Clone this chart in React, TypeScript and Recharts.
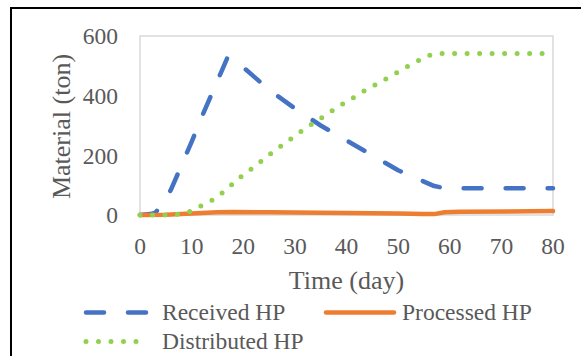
import { LineChart, Line, XAxis, YAxis, Legend, ReferenceArea } from 'recharts';

const receivedDays = [0, 2, 3, 4, 5, 6, 8, 10, 12, 14, 16, 17, 20, 25, 30, 35, 40, 45, 50, 55, 57, 59, 60, 80];
const receivedHP = [0, 3, 8, 30, 55, 85, 165, 245, 330, 410, 490, 530, 495, 420, 357, 300, 250, 200, 150, 112, 97, 90, 90, 90];

const processedDays = [0, 5, 10, 15, 18, 25, 30, 40, 50, 55, 57, 59, 62, 80];
const processedHP = [0, 1, 5, 9, 10, 9, 8, 7, 5, 3, 3, 9, 11, 13];

const distributedDays = [0, 5, 7, 8, 10, 12, 14, 16, 18, 20, 22, 24, 26, 28, 30, 32, 34, 36, 38, 40, 42, 44, 46, 48, 50, 52, 54, 56, 57, 58, 80];
const distributedHP = [0, 0, 2, 5, 13, 32, 50, 75, 105, 135, 160, 188, 215, 240, 265, 290, 312, 335, 358, 380, 400, 422, 440, 460, 480, 500, 518, 535, 540, 541, 541];

const xTicks = [0, 10, 20, 30, 40, 50, 60, 70, 80];
const yTicks = [0, 200, 400, 600];

const toPoints = (days: number[], vals: number[]) => days.map((d, i) => ({ day: d, value: vals[i] }));

const series = [
  { name: 'Received HP', data: toPoints(receivedDays, receivedHP), color: '#4472C4', width: 4.5, dash: '18 24' },
  { name: 'Processed HP', data: toPoints(processedDays, processedHP), color: '#ED7D31', width: 4.5, dash: undefined },
  { name: 'Distributed HP', data: toPoints(distributedDays, distributedHP), color: '#92D050', width: 5, dash: '0 12.5' },
];

const font = "'Liberation Serif', 'Times New Roman', serif";
const textColor = '#595959';

// legend placement: [sampleX, baselineY] for each series
const legendSpots = [
  [84, 30],
  [324, 30],
  [84, 59],
];

function LegendContent() {
  return (
    <svg width={581} height={66} style={{ display: 'block' }}>
      {series.map((s, i) => {
        const [lx, by] = legendSpots[i];
        const ly = by - 7.5;
        const len = s.dash ? 66 : 72;
        return (
          <g key={s.name}>
            <line x1={lx + 2} x2={lx + len - 2} y1={ly} y2={ly} stroke={s.color} strokeWidth={s.width}
              strokeDasharray={s.dash} strokeLinecap="round" />
            <text x={lx + len + (s.dash ? 12 : 6)} y={by} fill={textColor} fontSize={23.5} fontFamily={font}>{s.name}</text>
          </g>
        );
      })}
    </svg>
  );
}

export default function App() {
  return (
    <div style={{ position: 'absolute', left: 0, top: 0, width: 581, height: 356, overflow: 'hidden', background: '#fff' }}>
      <div style={{ position: 'absolute', left: 10, top: 7, width: 700, height: 500, borderLeft: '2px solid #000', borderTop: '2px solid #000' }} />
      <div style={{ position: 'absolute', left: 0, top: 0 }}>
        <LineChart width={581} height={356} margin={{ top: 36, right: 28, left: 0, bottom: 66 }} style={{ fontFamily: font }}>
          <ReferenceArea x1={0} x2={80} y1={0} y2={600} fill="none" stroke="#D9D9D9" strokeWidth={1.5} />
          <XAxis dataKey="day" type="number" domain={[0, 80]} ticks={xTicks} allowDuplicatedCategory={false}
            axisLine={false} tickLine={false} tickSize={0} tickMargin={22} height={75}
            tick={{ fill: textColor, fontSize: 23.5, fontFamily: font }}
            label={{
              content: (p: any) => (
                <text x={p.viewBox.x + p.viewBox.width / 2} y={p.viewBox.y + 74} textAnchor="middle"
                  fill={textColor} fontSize={26} fontFamily={font}>Time (day)</text>
              ),
            }} />
          <YAxis type="number" domain={[0, 600]} ticks={yTicks} width={140}
            axisLine={false} tickLine={false} tickSize={0} tickMargin={22}
            tick={{ fill: textColor, fontSize: 23.5, fontFamily: font }}
            label={{
              content: (p: any) => {
                const cx = 61;
                const cy = p.viewBox.y + p.viewBox.height / 2 + 1;
                return (
                  <text x={cx} y={cy} transform={`rotate(-90 ${cx} ${cy})`} textAnchor="middle" dominantBaseline="central"
                    fill={textColor} fontSize={26} fontFamily={font}>Material (ton)</text>
                );
              },
            }} />
          {series.map((s) => (
            <Line key={s.name} data={s.data} dataKey="value" name={s.name} type="linear" stroke={s.color}
              strokeWidth={s.width} strokeDasharray={s.dash} strokeLinecap="round" strokeLinejoin="round"
              dot={false} activeDot={false} isAnimationActive={false} />
          ))}
          <Legend layout="horizontal" verticalAlign="middle" align="center" content={<LegendContent />}
            wrapperStyle={{ left: 0, top: 290, width: 581, height: 66 }} />
        </LineChart>
      </div>
    </div>
  );
}
